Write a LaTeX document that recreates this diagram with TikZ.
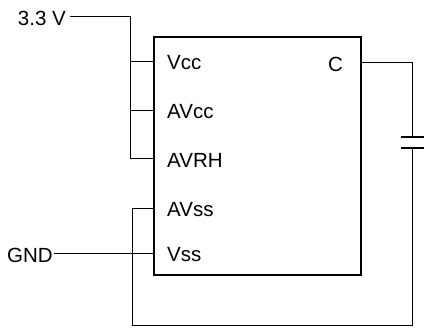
\documentclass[tikz,border=0pt]{standalone}
\usepackage{fontspec}
\setmainfont{Liberation Sans}
\begin{document}
\begin{tikzpicture}[x=1pt,y=-1pt,
    wire/.style={line width=0.8pt},
    plate/.style={line width=2.4pt},
    txt/.style={font=\fontsize{20.5}{24}\selectfont,inner sep=2pt}]
    \useasboundingbox (0,0) rectangle (427,328);
    % chip
    \node[draw,line width=2.2pt,minimum width=207pt,minimum height=238pt,anchor=north west,inner sep=0pt] (chip) at (153,36) {};
    \coordinate (pVcc) at (153,61);
    \coordinate (pAVcc) at (153,110);
    \coordinate (pAVRH) at (153,158);
    \coordinate (pAVss) at (153,208);
    \coordinate (pVss) at (153,253);
    \coordinate (pC) at (360,62);
    \node[txt,anchor=west] at (165,63) {Vcc};
    \node[txt,anchor=west] at (165,112) {AVcc};
    \node[txt,anchor=west] at (165,160) {AVRH};
    \node[txt,anchor=west] at (165,210) {AVss};
    \node[txt,anchor=west] at (165,255) {Vss};
    \node[txt,anchor=east] at (345,64) {C};
    % supply
    \node[txt,anchor=east,inner sep=4pt] (vin) at (70,18) {3.3 V};
    \coordinate (bus) at (130,16);
    \draw[wire] (vin.east |- bus) -- (bus) |- (pAVRH);
    \draw[wire] (bus |- pVcc) -- (pVcc);
    \draw[wire] (bus |- pAVcc) -- (pAVcc);
    % ground
    \node[txt,anchor=east,inner sep=1pt] (gnd) at (54,255) {GND};
    \draw[wire] (gnd.east |- pVss) -- (pVss);
    % capacitor
    \coordinate (capT) at (412,137);
    \coordinate (capB) at (412,148);
    \coordinate (loop) at (132,325);
    \draw[wire] (pC) -| (capT);
    \draw[wire] (pAVss) -| (loop) -| (capB);
    \draw[plate] ([xshift=-11.5pt]capT) -- ([xshift=11.5pt]capT);
    \draw[plate] ([xshift=-11.5pt]capB) -- ([xshift=11.5pt]capB);
\end{tikzpicture}
\end{document}
